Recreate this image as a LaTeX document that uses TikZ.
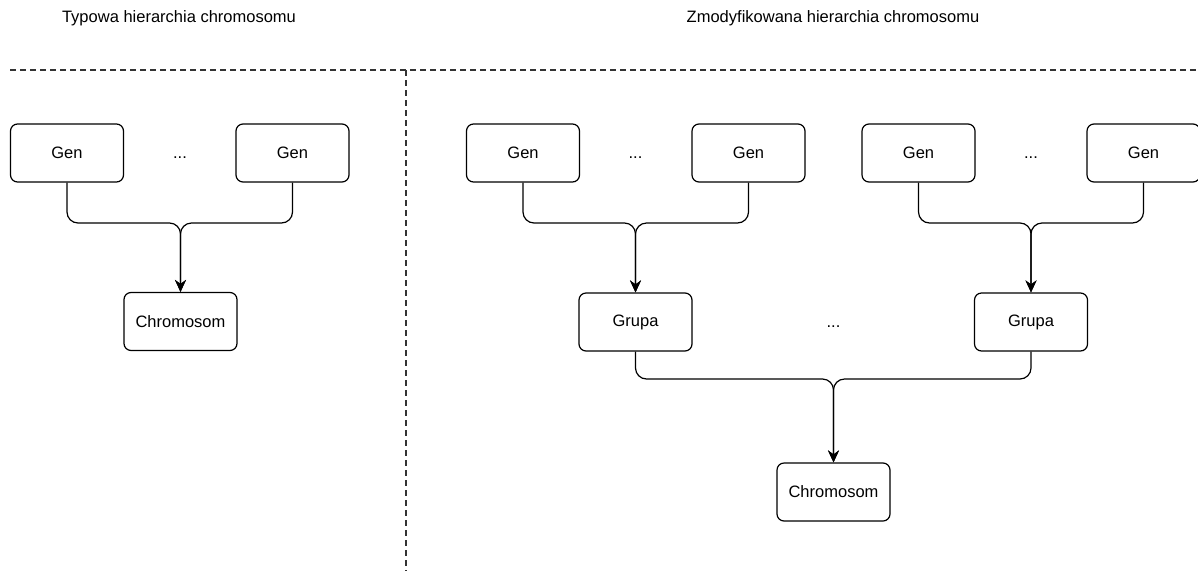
\documentclass[tikz,border=0pt]{standalone}
\usepackage{fontspec}
\setmainfont{Liberation Sans}
\usetikzlibrary{arrows.meta}

\tikzset{
  box/.style={draw=black, line width=1.2pt, rounded corners=7pt, fill=white,
    minimum width=113pt, minimum height=58pt, inner sep=0pt,
    font=\fontsize{16.5}{20}\selectfont},
  plain/.style={inner sep=0pt, font=\fontsize{16.5}{20}\selectfont},
  conn/.style={draw=black, line width=1.2pt, rounded corners=11pt,
    -{Stealth[length=12pt, width=11pt, inset=4pt]}},
  divider/.style={draw=black!80, line width=1.5pt, dash pattern=on 6pt off 4pt}
}

\begin{document}
\begin{tikzpicture}[x=1pt, y=-1pt]
  \useasboundingbox (0,0) rectangle (1198,571);

  % section titles
  \node[plain] (t1) at (179,18) {Typowa hierarchia chromosomu};
  \node[plain] (t2) at (833,18) {Zmodyfikowana hierarchia chromosomu};

  % dividers
  \coordinate (hl) at (10,70);
  \coordinate (hr) at (1198,70);
  \coordinate (vt) at (406,70);
  \coordinate (vb) at (406,571);
  \draw[divider] (hl) -- (hr);
  \draw[divider] (vt) -- (vb);

  % typical hierarchy
  \node[box] (g1) at (67,153) {Gen};
  \node[plain] (d1) at (180,158) {...};
  \node[box] (g2) at (292.5,153) {Gen};
  \node[box] (c1) at (180.5,321.5) {Chromosom};
  \coordinate (j1) at (180.5,223);
  \draw[conn] (g1.south) |- (j1) -- (c1.north);
  \draw[conn] (g2.south) |- (j1) -- (c1.north);

  % modified hierarchy: genes
  \node[box] (g3) at (523,153) {Gen};
  \node[plain] (d2) at (635.5,158) {...};
  \node[box] (g4) at (748.5,153) {Gen};
  \node[box] (g5) at (918.5,153) {Gen};
  \node[plain] (d3) at (1031,158) {...};
  \node[box] (g6) at (1143.5,153) {Gen};

  % modified hierarchy: groups
  \node[box] (p1) at (635.5,322) {Grupa};
  \node[plain] (d4) at (833.5,327) {...};
  \node[box] (p2) at (1031,322) {Grupa};

  % modified hierarchy: chromosome
  \node[box] (c2) at (833.5,492) {Chromosom};

  \coordinate (j2) at (635.5,223);
  \coordinate (j3) at (1031,223);
  \coordinate (j4) at (833.5,379);
  \draw[conn] (g3.south) |- (j2) -- (p1.north);
  \draw[conn] (g4.south) |- (j2) -- (p1.north);
  \draw[conn] (g5.south) |- (j3) -- (p2.north);
  \draw[conn] (g6.south) |- (j3) -- (p2.north);
  \draw[conn] (p1.south) |- (j4) -- (c2.north);
  \draw[conn] (p2.south) |- (j4) -- (c2.north);
\end{tikzpicture}
\end{document}
